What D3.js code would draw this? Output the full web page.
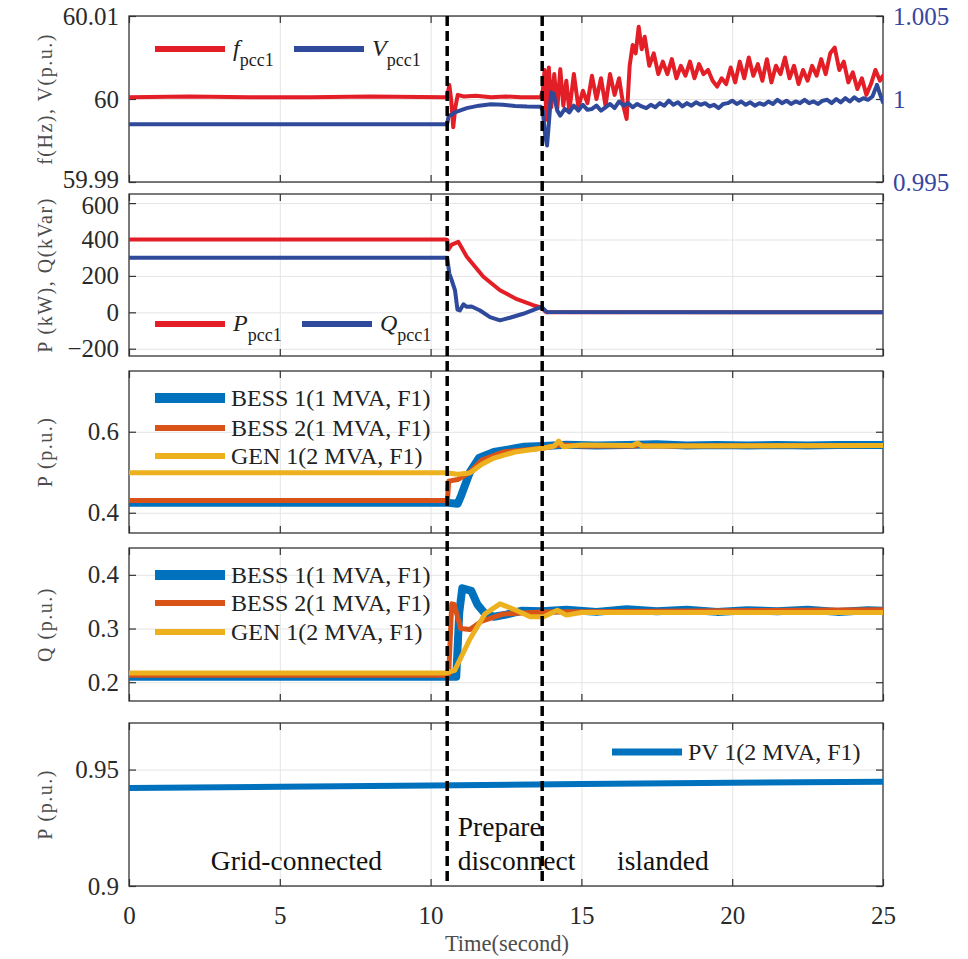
<!DOCTYPE html>
<html>
<head>
<meta charset="utf-8">
<script src="https://cdn.jsdelivr.net/npm/d3@7"></script>
<style>
  body { margin: 0; background: #fff; }
  svg { display: block; font-family: "Liberation Serif", "Times New Roman", serif; }
  .grid line { stroke: #e4e4e4; stroke-width: 1; }
  .grid path, .ax path { display: none; }
  .ax line { stroke: #333; stroke-width: 1.2; }
  .ax text { font-size: 25px; fill: #2a2a2a; font-family: "Liberation Serif", serif; }
</style>
</head>
<body>
<svg id="chart" width="968" height="959"></svg>
<script>
// ---- data ----
const timeTicks = [0, 5, 10, 15, 20, 25];
const switchTimes = [10.55, 13.7];
const modeLabels = ['Grid-connected', 'Prepare', 'disconnect', 'islanded'];

const fTicks = [59.99, 60, 60.01];
const fTickLabels = ['59.99', '60', '60.01'];
const vTicks = [0.995, 1, 1.005];
const vTickLabels = ['0.995', '1', '1.005'];
const pqTicks = [-200, 0, 200, 400, 600];
const pTicks = [0.4, 0.6];
const qTicks = [0.2, 0.3, 0.4];
const pvTicks = [0.9, 0.95];

// f_pcc1 (Hz)
const fTime = [0, 2, 4, 6, 8, 10.5, 10.55, 10.62, 10.68, 10.75, 10.82, 10.9, 11.1, 11.5, 12, 12.5, 13, 13.65,
  13.72, 13.78, 13.84, 13.92, 14.0, 14.1, 14.2, 14.3, 14.4, 14.5, 14.6, 14.75, 14.9, 15.05, 15.2, 15.35, 15.5,
  15.65, 15.8, 15.95, 16.1, 16.25, 16.4, 16.5, 16.6, 16.7, 16.8, 16.9, 17.0, 17.1, 17.25, 17.4, 17.55, 17.7,
  17.85, 18.0, 18.15, 18.3, 18.45, 18.6, 18.75, 18.9, 19.05, 19.2, 19.35, 19.5, 19.65, 19.8, 19.95, 20.1, 20.25,
  20.4, 20.55, 20.7, 20.85, 21.0, 21.15, 21.3, 21.45, 21.6, 21.75, 21.9, 22.05, 22.2, 22.35, 22.5, 22.65, 22.8,
  22.95, 23.1, 23.25, 23.4, 23.55, 23.7, 23.85, 24.0, 24.15, 24.3, 24.45, 24.6, 24.75, 24.9, 25.0];
const fVals = [60.0002, 60.0003, 60.0002, 60.0002, 60.0003, 60.0002, 60.0003, 60.0017, 60.0000, 59.9966, 59.9990,
  60.0005, 60.0003, 60.0004, 60.0002, 60.0003, 60.0002, 60.0002,
  60.0010, 60.0035, 59.9975, 60.0038, 59.9990, 60.0030, 59.9988, 60.0036, 59.9992, 60.0022, 59.9985, 60.0030,
  59.9990, 60.0010, 59.9995, 60.0028, 60.0000, 60.0025, 59.9992, 60.0030, 60.0005, 60.0025, 59.9990, 59.9976,
  60.0040, 60.0065, 60.0055, 60.0087, 60.0060, 60.0075, 60.0040, 60.0055, 60.0030, 60.0045, 60.0030, 60.0048,
  60.0025, 60.0040, 60.0028, 60.0045, 60.0025, 60.0042, 60.0030, 60.0035, 60.0022, 60.0015, 60.0025, 60.0018,
  60.0038, 60.0020, 60.0045, 60.0025, 60.0050, 60.0028, 60.0042, 60.0022, 60.0048, 60.0020, 60.0040, 60.0030,
  60.0050, 60.0025, 60.0040, 60.0018, 60.0035, 60.0022, 60.0040, 60.0028, 60.0048, 60.0030, 60.0055, 60.0062,
  60.0035, 60.0045, 60.0020, 60.0032, 60.0012, 60.0025, 60.0005, 60.0018, 60.0035, 60.0022, 60.0028];

// V_pcc1 (p.u.)
const vTime = [0, 10.5, 10.55, 10.6, 10.7, 10.8, 11.2, 11.6, 12.0, 12.4, 12.8, 13.2, 13.65, 13.72, 13.8, 13.86,
  13.92, 14.0, 14.08, 14.2, 14.3, 14.45, 14.6, 14.75, 14.9, 15.05, 15.2, 15.35, 15.5, 15.65, 15.8, 15.95, 16.1,
  16.25, 16.4, 16.55, 16.7, 16.85, 17.0, 17.15, 17.3, 17.45, 17.6, 17.75, 17.9, 18.05, 18.2, 18.35, 18.5, 18.65,
  18.8, 18.95, 19.1, 19.25, 19.4, 19.55, 19.7, 19.85, 20.0, 20.15, 20.3, 20.45, 20.6, 20.75, 20.9, 21.05, 21.2,
  21.35, 21.5, 21.65, 21.8, 21.95, 22.1, 22.25, 22.4, 22.55, 22.7, 22.85, 23.0, 23.15, 23.3, 23.45, 23.6, 23.75,
  23.9, 24.05, 24.2, 24.35, 24.5, 24.65, 24.8, 24.9, 25.0];
const vVals = [0.99848, 0.99848, 0.99850, 0.99900, 0.99905, 0.99920, 0.99945, 0.99960, 0.99968, 0.99965, 0.99958,
  0.99955, 0.99954, 0.99930, 0.99780, 0.99720, 0.99850, 1.00040, 1.00030, 0.99930, 0.99900, 0.99940, 0.99920,
  0.99960, 0.99930, 0.99965, 0.99935, 0.99940, 0.99960, 0.99930, 0.99950, 0.99970, 0.99945, 0.99985, 0.99960,
  0.99975, 0.99950, 0.99970, 0.99955, 0.99945, 0.99965, 0.99950, 0.99975, 0.99960, 0.99990, 0.99965, 0.99980,
  0.99955, 0.99975, 0.99960, 0.99980, 0.99965, 0.99975, 0.99955, 0.99965, 0.99945, 0.99970, 0.99975, 0.99990,
  0.99970, 0.99985, 0.99965, 0.99980, 0.99960, 0.99975, 0.99965, 0.99985, 0.99970, 0.99995, 0.99975, 0.99990,
  0.99970, 0.99985, 0.99975, 0.99995, 0.99975, 0.99985, 0.99970, 0.99990, 0.99995, 0.99975, 1.00000, 0.99980,
  1.00005, 0.99985, 1.00010, 0.99990, 1.00005, 0.99995, 1.00015, 1.00085, 1.00030, 0.99980];

// P_pcc1 (kW), Q_pcc1 (kVar)
const pTime = [0, 10.5, 10.55, 10.59, 10.7, 10.92, 11.2, 11.75, 12.3, 12.86, 13.4, 13.68, 13.8, 13.85, 25];
const pVals = [400, 400, 398, 345, 372, 387, 305, 195, 121, 72, 39, 25, 5, 1, 0];
const qTime = [0, 10.55, 10.62, 10.7, 10.81, 10.89, 10.97, 11.09, 11.2, 11.36, 11.64, 11.97, 12.3, 12.63, 13.07,
  13.52, 13.68, 13.85, 25];
const qVals = [300, 300, 214, 176, 120, 15, 10, 44, 30, 32, 10, -26, -44, -30, -8, 20, 30, 2, 0];

// active power (p.u.)
const bess1PTime = [0, 10.5, 10.9, 11.0, 11.3, 11.6, 12.1, 13.1, 13.75, 14.5, 15.5, 16.5, 17.5, 18.5, 19.5, 20.5,
  21.5, 22.5, 23.5, 25];
const bess1PVals = [0.425, 0.425, 0.422, 0.44, 0.50, 0.535, 0.55, 0.563, 0.565, 0.568, 0.566, 0.567, 0.569, 0.566,
  0.567, 0.566, 0.567, 0.566, 0.567, 0.567];
const bess2PTime = [0, 10.5, 10.56, 10.6, 10.9, 11.3, 11.7, 12.4, 13.75, 14.3, 15, 16.8, 16.9, 17, 25];
const bess2PVals = [0.43, 0.43, 0.432, 0.478, 0.482, 0.50, 0.53, 0.55, 0.56, 0.568, 0.565, 0.565, 0.57, 0.565, 0.566];
const gen1PTime = [0, 10.5, 10.9, 11.3, 11.7, 12.1, 12.8, 13.75, 14.1, 14.25, 14.4, 15, 16.7, 16.85, 17, 25];
const gen1PVals = [0.499, 0.499, 0.495, 0.498, 0.52, 0.535, 0.55, 0.56, 0.565, 0.577, 0.563, 0.567, 0.566, 0.572,
  0.565, 0.566];

// reactive power (p.u.)
const bess1QTime = [0, 10.5, 10.85, 10.95, 11.05, 11.35, 11.55, 11.8, 12.1, 12.5, 13, 13.7, 14.5, 15.5, 16.5, 17.5,
  18.5, 19.5, 20.5, 21.5, 22.5, 23.5, 24.5, 25];
const bess1QVals = [0.21, 0.21, 0.21, 0.33, 0.375, 0.37, 0.345, 0.328, 0.322, 0.326, 0.333, 0.332, 0.335, 0.331,
  0.336, 0.332, 0.335, 0.331, 0.334, 0.332, 0.335, 0.331, 0.334, 0.333];
const bess2QTime = [0, 10.5, 10.6, 10.7, 10.78, 11.0, 11.3, 11.7, 12.4, 13.7, 25];
const bess2QVals = [0.213, 0.213, 0.215, 0.346, 0.345, 0.30, 0.298, 0.314, 0.327, 0.331, 0.335];
const gen1QTime = [0, 10.5, 10.8, 11.3, 11.8, 12.3, 12.8, 13.3, 13.75, 14.2, 14.5, 15, 25];
const gen1QVals = [0.217, 0.217, 0.222, 0.28, 0.327, 0.346, 0.335, 0.322, 0.322, 0.334, 0.325, 0.33, 0.33];

// PV 1 (p.u.)
const pvTime = [0, 5, 10, 15, 20, 25];
const pvVals = [0.9421, 0.9426, 0.9432, 0.9438, 0.9443, 0.9448];

// ---- drawing ----
const red = '#e41e26', darkBlue = '#2f4a9b';
const c1 = '#0072bd', c2 = '#d95319', c3 = '#edb120';

const svg = d3.select('#chart');
const x = d3.scaleLinear().domain([0, 25]).range([129, 883]);
const plotW = x(25) - x(0);

const panels = [
  {top: 16, bottom: 182, domain: [59.99, 60.01], ticks: fTicks, fmt: (d, i) => fTickLabels[i], label: 'f(Hz), V(p.u.)'},
  {top: 194, bottom: 356, domain: [-240, 650], ticks: pqTicks, fmt: d3.format('d'), label: 'P (kW), Q(kVar)'},
  {top: 371, bottom: 533, domain: [0.35, 0.75], ticks: pTicks, fmt: d3.format('.1f'), label: 'P (p.u.)'},
  {top: 548, bottom: 701, domain: [0.165, 0.45], ticks: qTicks, fmt: d3.format('.1f'), label: 'Q (p.u.)'},
  {top: 723, bottom: 886, domain: [0.9, 0.97], ticks: pvTicks, fmt: d => d === 0.9 ? '0.9' : '0.95', label: 'P (p.u.)'}
];

panels.forEach((p, i) => {
  p.y = d3.scaleLinear().domain(p.domain).range([p.bottom, p.top]);
  const h = p.bottom - p.top;
  const g = svg.append('g');

  g.append('clipPath').attr('id', 'clip' + i)
    .append('rect').attr('x', x(0)).attr('y', p.top).attr('width', plotW).attr('height', h);

  // grid
  g.append('g').attr('class', 'grid').attr('transform', `translate(0,${p.bottom})`)
    .call(d3.axisBottom(x).tickValues(timeTicks.slice(1, -1)).tickSize(-h).tickFormat(''));
  g.append('g').attr('class', 'grid').attr('transform', `translate(${x(0)},0)`)
    .call(d3.axisLeft(p.y).tickValues(p.ticks).tickSize(-plotW).tickFormat(''));

  // box ticks
  g.append('g').attr('class', 'ax').attr('transform', `translate(${x(0)},0)`)
    .call(d3.axisLeft(p.y).tickValues(p.ticks).tickSize(-7).tickPadding(10).tickFormat(p.fmt));
  g.append('g').attr('class', 'ax').attr('transform', `translate(0,${p.top})`)
    .call(d3.axisTop(x).tickValues(timeTicks).tickSize(-7).tickFormat(''));
  const bottomAxis = d3.axisBottom(x).tickValues(timeTicks).tickSize(-7).tickPadding(20);
  if (i < panels.length - 1) bottomAxis.tickFormat('');
  g.append('g').attr('class', 'ax').attr('transform', `translate(0,${p.bottom})`).call(bottomAxis);

  if (i === 0) {
    p.y2 = d3.scaleLinear().domain([0.995, 1.005]).range([p.bottom, p.top]);
    const right = g.append('g').attr('class', 'ax').attr('transform', `translate(${x(25)},0)`)
      .call(d3.axisRight(p.y2).tickValues(vTicks).tickSize(-7).tickPadding(10).tickFormat((d, k) => vTickLabels[k]));
    right.selectAll('text').style('fill', '#3646a0');
  } else {
    g.append('g').attr('class', 'ax').attr('transform', `translate(${x(25)},0)`)
      .call(d3.axisRight(p.y).tickValues(p.ticks).tickSize(-7).tickFormat(''));
  }

  g.append('rect').attr('x', x(0)).attr('y', p.top).attr('width', plotW).attr('height', h)
    .attr('fill', 'none').attr('stroke', '#333').attr('stroke-width', 1.3);

  // y label
  g.append('text')
    .attr('transform', `translate(52,${(p.top + p.bottom) / 2}) rotate(-90)`)
    .attr('text-anchor', 'middle')
    .attr('fill', '#4d4d4d')
    .attr('font-size', 20)
    .attr('letter-spacing', 1.5)
    .text(p.label);

  p.lines = g.append('g').attr('clip-path', `url(#clip${i})`);
});

// nudge the two labels that meet at the first panel boundary
svg.selectAll('.ax text').filter(function() { return this.textContent === '59.99'; }).attr('dy', '0.2em');
svg.selectAll('.ax text').filter(function() { return this.textContent === '600'; }).attr('dy', '0.42em');

function drawSeries(panel, yScale, time, vals, color, width) {
  const line = d3.line().x(d => x(d[0])).y(d => yScale(d[1]));
  panel.lines.append('path')
    .datum(d3.zip(time, vals))
    .attr('d', line)
    .attr('fill', 'none')
    .attr('stroke', color)
    .attr('stroke-width', width)
    .attr('stroke-linejoin', 'round')
    .attr('stroke-linecap', 'round');
}

drawSeries(panels[0], panels[0].y, fTime, fVals, red, 4);
drawSeries(panels[0], panels[0].y2, vTime, vVals, darkBlue, 4);
drawSeries(panels[1], panels[1].y, pTime, pVals, red, 4);
drawSeries(panels[1], panels[1].y, qTime, qVals, darkBlue, 4);
drawSeries(panels[2], panels[2].y, bess1PTime, bess1PVals, c1, 8);
drawSeries(panels[2], panels[2].y, bess2PTime, bess2PVals, c2, 5);
drawSeries(panels[2], panels[2].y, gen1PTime, gen1PVals, c3, 5);
drawSeries(panels[3], panels[3].y, bess1QTime, bess1QVals, c1, 8);
drawSeries(panels[3], panels[3].y, bess2QTime, bess2QVals, c2, 5);
drawSeries(panels[3], panels[3].y, gen1QTime, gen1QVals, c3, 5);
drawSeries(panels[4], panels[4].y, pvTime, pvVals, c1, 6);

// legends
function legendLine(x0, y0, color, width) {
  svg.append('line').attr('x1', x0).attr('x2', x0 + 70).attr('y1', y0).attr('y2', y0)
    .attr('stroke', color).attr('stroke-width', width);
}
function subLegend(x0, y0, color, main, sub) {
  legendLine(x0, y0, color, 6);
  const t = svg.append('text').attr('x', x0 + 78).attr('y', y0 + 7).attr('font-size', 24).attr('fill', '#222');
  t.append('tspan').attr('font-style', 'italic').text(main);
  t.append('tspan').attr('font-size', 18).attr('dy', 10).text(sub);
}
function textLegend(x0, y0, color, width, label) {
  legendLine(x0, y0, color, width);
  svg.append('text').attr('x', x0 + 76).attr('y', y0 + 8).attr('font-size', 24).attr('fill', '#222').text(label);
}

subLegend(155, 49, red, 'f', 'pcc1');
subLegend(294, 49, darkBlue, 'V', 'pcc1');
subLegend(155, 324, red, 'P', 'pcc1');
subLegend(302, 324, darkBlue, 'Q', 'pcc1');

const ratedLabels = ['BESS 1(1 MVA, F1)', 'BESS 2(1 MVA, F1)', 'GEN 1(2 MVA, F1)', 'PV 1(2 MVA, F1)'];
[[398, 428, 456], [575, 603, 632]].forEach(rows => {
  textLegend(155, rows[0], c1, 10, ratedLabels[0]);
  textLegend(155, rows[1], c2, 6, ratedLabels[1]);
  textLegend(155, rows[2], c3, 6, ratedLabels[2]);
});
textLegend(612, 752, c1, 7, ratedLabels[3]);

// switching instants
svg.selectAll('.switch').data(switchTimes).enter().append('line')
  .attr('class', 'switch')
  .attr('x1', d => x(d)).attr('x2', d => x(d))
  .attr('y1', 16).attr('y2', 886)
  .attr('stroke', '#000').attr('stroke-width', 3.5).attr('stroke-dasharray', '10,5');

// operating modes
const modeText = (t, y, anchor, s) => svg.append('text').attr('x', x(t)).attr('y', y)
  .attr('text-anchor', anchor).attr('font-size', 27.5).attr('fill', '#111').text(s);
modeText(5.55, 870, 'middle', modeLabels[0]);
modeText(10.9, 836, 'start', modeLabels[1]);
modeText(10.9, 870, 'start', modeLabels[2]);
modeText(17.7, 870, 'middle', modeLabels[3]);

svg.append('text').attr('x', 507).attr('y', 951).attr('text-anchor', 'middle')
  .attr('font-size', 22.5).attr('fill', '#4d4d4d').text('Time(second)');
</script>
</body>
</html>
